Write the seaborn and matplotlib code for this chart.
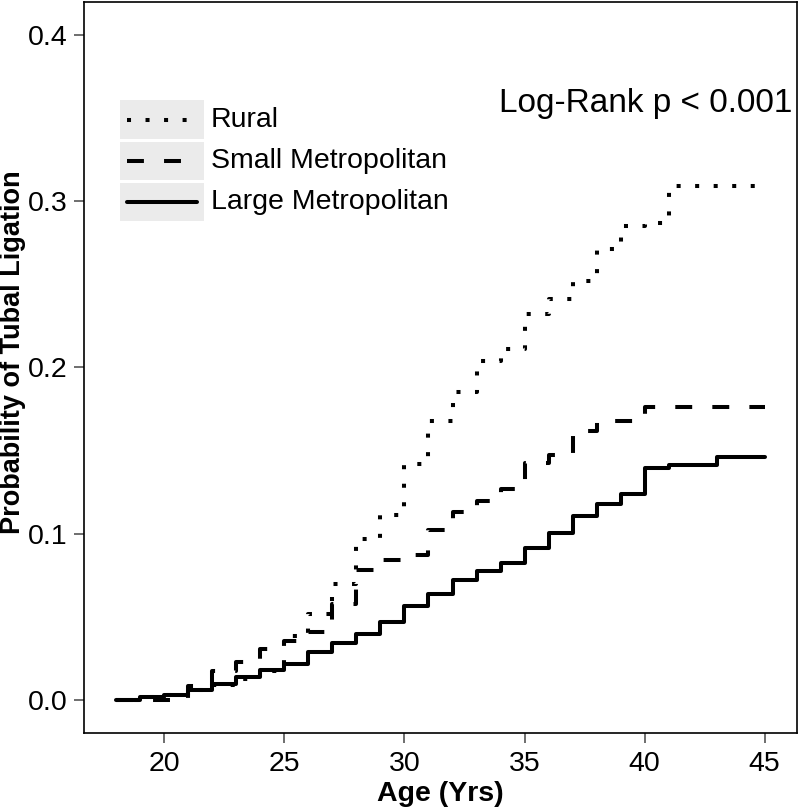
import seaborn as sns
import matplotlib.pyplot as plt
import pandas as pd
from matplotlib.patches import Rectangle
from matplotlib.lines import Line2D

# ages at which each step starts
ages = [18, 19, 20, 21, 22, 23, 24, 25, 26, 27, 28, 29, 30, 31,
        32, 33, 34, 35, 36, 37, 38, 39, 40, 41, 42, 43, 44, 45]

rural = [0.0, 0.0015, 0.003, 0.006, 0.009, 0.0126, 0.017, 0.0385, 0.0515, 0.0695,
         0.097, 0.111, 0.142, 0.168, 0.185, 0.204, 0.211, 0.232, 0.241, 0.252,
         0.271, 0.285, 0.287, 0.309, 0.309, 0.309, 0.309, 0.309]
small_metro = [0.0, 0.0, 0.0, 0.008, 0.017, 0.0225, 0.0305, 0.0355, 0.041, 0.0575,
               0.078, 0.084, 0.087, 0.1024, 0.1128, 0.1194, 0.1267, 0.1427, 0.1473, 0.1617,
               0.1677, 0.1677, 0.1762, 0.1762, 0.1762, 0.1762, 0.1762, 0.1762]
large_metro = [0.0, 0.0016, 0.0026, 0.0056, 0.0096, 0.0136, 0.018, 0.0216, 0.029, 0.034,
               0.0395, 0.0465, 0.0565, 0.0635, 0.0719, 0.0774, 0.0823, 0.0913, 0.1004, 0.1108,
               0.118, 0.1237, 0.1393, 0.1413, 0.1413, 0.1459, 0.1459, 0.1459]

groups = ["Rural", "Small Metropolitan", "Large Metropolitan"]
dash_map = {"Rural": (1, 3.6), "Small Metropolitan": (4.2, 5), "Large Metropolitan": ""}

df = pd.concat([
    pd.DataFrame({"age": ages, "prob": rural, "region": "Rural"}),
    pd.DataFrame({"age": ages, "prob": small_metro, "region": "Small Metropolitan"}),
    pd.DataFrame({"age": ages, "prob": large_metro, "region": "Large Metropolitan"}),
])

sns.set_theme(style="white")
plt.rcParams["font.family"] = ["Liberation Sans", "DejaVu Sans"]
plt.rcParams["text.color"] = "black"
plt.rcParams["axes.labelcolor"] = "black"
plt.rcParams["xtick.labelcolor"] = "black"
plt.rcParams["ytick.labelcolor"] = "black"

fig = plt.figure(figsize=(8, 8.09), dpi=100)
ax = fig.add_axes([84 / 800, 1 - 733 / 809, 713 / 800, 733 / 809 - 0.002])

LW = 2.9
sns.lineplot(data=df, x="age", y="prob", style="region", style_order=groups,
             dashes=dash_map, color="black", linewidth=LW, drawstyle="steps-post",
             estimator=None, legend=False, ax=ax, dash_capstyle="butt")

ax.set_xlim(16.65, 46.35)
ax.set_ylim(-0.02, 0.42)
ax.set_xticks([20, 25, 30, 35, 40, 45])
ax.set_yticks([0.0, 0.1, 0.2, 0.3, 0.4])
ax.set_yticklabels(["0.0", "0.1", "0.2", "0.3", "0.4"])
ax.tick_params(axis="both", which="major", direction="out", length=7, width=1.2,
               color="#555555", labelsize=20.5, bottom=True, left=True)
ax.tick_params(axis="x", pad=6)
ax.tick_params(axis="y", pad=5)
for s in ax.spines.values():
    s.set_color("black")
    s.set_linewidth(1.2)

ax.set_xlabel("Age (Yrs)", fontsize=20.5, fontweight="bold", labelpad=3)
ax.set_ylabel("Probability of Tubal Ligation", fontsize=19.5, fontweight="bold")
ax.yaxis.set_label_coords(-0.082, 0.52)

# legend drawn by hand: grey key boxes like the original
def ax_x(px):
    return (px - 84) / 713

def ax_y(py):
    return 1 - py / 733

rows = [(99, 138), (141, 179), (182, 220)]
for (top, bot), name in zip(rows, groups):
    ax.add_patch(Rectangle((ax_x(120), ax_y(bot)), ax_x(204) - ax_x(120), ax_y(top) - ax_y(bot),
                           transform=ax.transAxes, facecolor="#ebebeb", edgecolor="none", zorder=3))
    yc = ax_y((top + bot) / 2)
    key = Line2D([ax_x(127), ax_x(197)], [yc, yc], transform=ax.transAxes, color="black",
                 linewidth=LW, zorder=4, dash_capstyle="butt")
    if dash_map[name]:
        key.set_dashes(dash_map[name])
    ax.add_line(key)
    ax.text(ax_x(211), yc, name, transform=ax.transAxes, fontsize=20.5,
            ha="left", va="center", zorder=4)

ax.text(ax_x(792), ax_y(102), "Log-Rank p < 0.001", transform=ax.transAxes,
        fontsize=24, ha="right", va="center")

fig.savefig("out.png", dpi=100)
